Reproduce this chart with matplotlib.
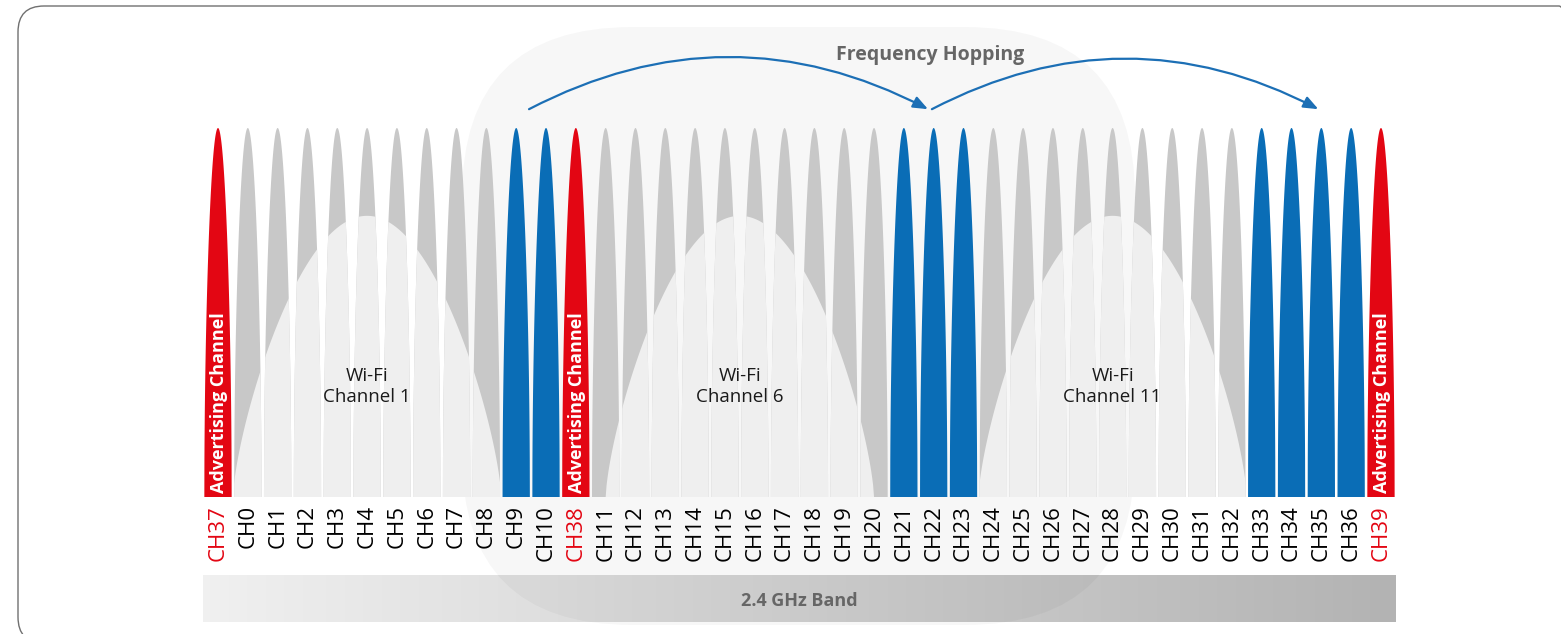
import numpy as np
import matplotlib
matplotlib.use("Agg")
import matplotlib.pyplot as plt
from matplotlib.patches import Polygon, FancyBboxPatch, FancyArrowPatch
from matplotlib.colors import LinearSegmentedColormap
from matplotlib.transforms import IdentityTransform

plt.rcParams['font.family'] = ['Open Sans', 'DejaVu Sans']

# ---------------- data ----------------
channels = ['CH37', 'CH0', 'CH1', 'CH2', 'CH3', 'CH4', 'CH5', 'CH6', 'CH7', 'CH8',
            'CH9', 'CH10', 'CH38', 'CH11', 'CH12', 'CH13', 'CH14', 'CH15', 'CH16',
            'CH17', 'CH18', 'CH19', 'CH20', 'CH21', 'CH22', 'CH23', 'CH24', 'CH25',
            'CH26', 'CH27', 'CH28', 'CH29', 'CH30', 'CH31', 'CH32', 'CH33', 'CH34',
            'CH35', 'CH36', 'CH39']
advertising = ['CH37', 'CH38', 'CH39']
hopping = ['CH9', 'CH10', 'CH21', 'CH22', 'CH23', 'CH33', 'CH34', 'CH35', 'CH36']
channel_level = 1.0
wifi_labels = ['Wi-Fi\nChannel 1', 'Wi-Fi\nChannel 6', 'Wi-Fi\nChannel 11']
wifi_centers = [5.0, 17.5, 30.0]          # position on the channel axis
wifi_level = 0.762
hop_from = ['CH9', 'CH22']
hop_to = ['CH22', 'CH35']
hop_from_offset = [0.43, -0.06]
hop_to_offset = [-0.19, -0.10]
band_label = '2.4 GHz Band'
title = 'Frequency Hopping'
adv_text = 'Advertising Channel'

# ---------------- colours ----------------
C_GRAY = '#c8c8c8'
C_WIFI = '#efefef'
C_BLUE = '#0a6db6'
C_RED = '#e30613'
C_TEXT = '#666666'

W = 1561 / 100
H = 634 / 100
fig = plt.figure(figsize=(W, H), dpi=100)
fig.patch.set_facecolor('white')

ax = fig.add_axes([0, 0, 1, 1])
ax.patch.set_visible(False)
ax.axis('off')

# frame (pixel coordinates)
frame = FancyBboxPatch((18, -9), 1567, 637, boxstyle='round,pad=0,rounding_size=26',
                       transform=IdentityTransform(), facecolor='none', edgecolor='#707070',
                       lw=1.0, zorder=-1)
fig.add_artist(frame)

# faint watermark (pixel coordinates)
wm = FancyBboxPatch((462, 634 - 625), 673, 598, boxstyle='round,pad=0,rounding_size=170',
                    transform=IdentityTransform(), facecolor='black', alpha=0.03,
                    edgecolor='none', zorder=1.5, clip_on=False)
ax.add_patch(wm)

half_w = 0.458
wifi_half = 4.5
u = np.linspace(-1, 1, 301)
ch_prof = np.clip(np.cos(np.pi / 2 * u), 0, None) ** 0.5
wifi_prof = np.clip(np.cos(np.pi / 2 * u), 0, None) ** 0.7

for i, name in enumerate(channels):
    if name in advertising:
        col = C_RED
    elif name in hopping:
        col = C_BLUE
    else:
        col = C_GRAY
    xy = np.column_stack([i + half_w * u, channel_level * ch_prof])
    poly = Polygon(xy, closed=True, facecolor=col, edgecolor='none', zorder=2)
    ax.add_patch(poly)
    if col == C_GRAY:
        for c in wifi_centers:
            if abs(c - i) < wifi_half + half_w:
                hxy = np.column_stack([c + wifi_half * u, wifi_level * wifi_prof])
                hp = Polygon(hxy, closed=True, facecolor=C_WIFI, edgecolor='none', zorder=3)
                ax.add_patch(hp)
                hp.set_clip_path(poly)
    if name in advertising:
        ax.text(i + 0.03, 0.012, adv_text, rotation=90, ha='center', va='bottom',
                color='white', fontsize=13, fontweight='bold', zorder=5)
    ax.text(i, -0.022, name, rotation=90, ha='center', va='top', fontsize=16,
            color=C_RED if name in advertising else 'black', zorder=5)

for c, lab in zip(wifi_centers, wifi_labels):
    ax.text(c, 0.30, lab, ha='center', va='center', fontsize=13.5, color='#1a1a1a',
            linespacing=1.2, zorder=5)

# frequency hopping arrows
for a, b, oa, ob in zip(hop_from, hop_to, hop_from_offset, hop_to_offset):
    ia, ib = channels.index(a), channels.index(b)
    arr = FancyArrowPatch((ia + oa, 1.051), (ib + ob, 1.051),
                          arrowstyle='-|>,head_length=0.55,head_width=0.22',
                          mutation_scale=16, connectionstyle='arc3,rad=-0.26',
                          color='#1c6fb5', lw=1.6, shrinkA=0, shrinkB=0, zorder=6)
    ax.add_patch(arr)
ax.text(23.88, 1.198, title, ha='center', va='center', fontsize=14, fontweight='bold',
        color=C_TEXT, zorder=6)

# band bar
band_top, band_bot = -0.214, -0.339
cmap = LinearSegmentedColormap.from_list('band', ['#f0f0f0', '#b3b3b3'])
grad = np.linspace(0, 1, 256).reshape(1, -1)
ax.imshow(grad, extent=[-0.5, len(channels) - 0.5, band_bot, band_top], aspect='auto',
          cmap=cmap, zorder=1, interpolation='bilinear')
ax.text((len(channels) - 1) / 2, (band_top + band_bot) / 2 - 0.006, band_label, ha='center',
        va='center', fontsize=13, fontweight='bold', color=C_TEXT, zorder=5)

ax.set_xlim(-218 / 29.82, (1561 - 218) / 29.82)
ax.set_ylim(-(634 - 497) / 369, 497 / 369)

fig.savefig('out.png', dpi=100)
